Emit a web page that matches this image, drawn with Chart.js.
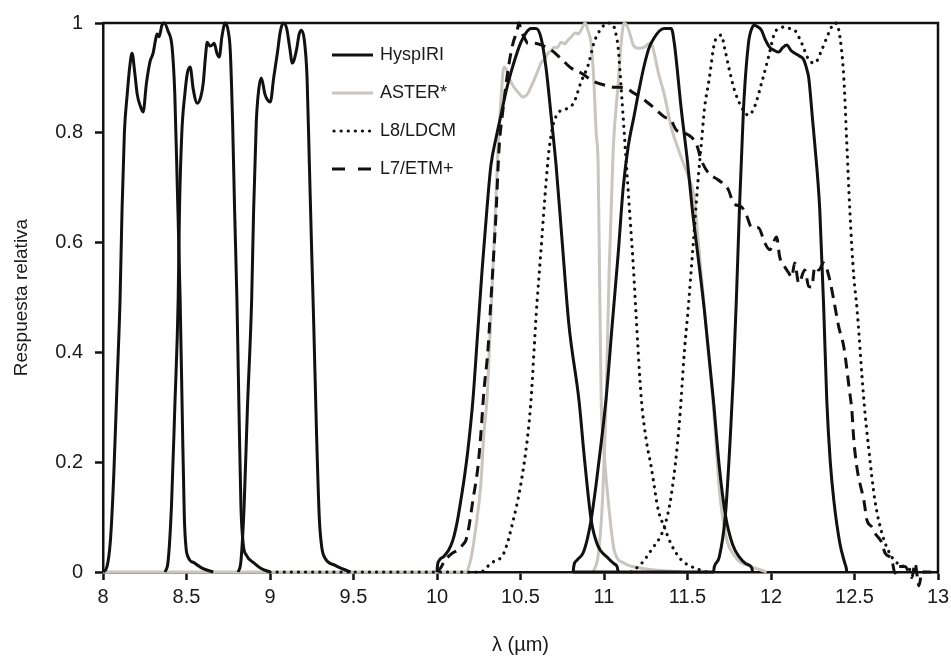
<!DOCTYPE html>
<html>
<head>
<meta charset="utf-8">
<script src="https://cdn.jsdelivr.net/npm/chart.js@4.4.0/dist/chart.umd.min.js"></script>
<style>
  html, body { margin: 0; padding: 0; background: #fff; }
  #wrap { width: 951px; height: 657px; position: relative; }
</style>
</head>
<body>
<div id="wrap"><canvas id="chart"></canvas></div>
<script>
// [wavelength (um), relative response]
const hyspiri1 = [[8.0,0],[8.024,0.01],[8.045,0.06],[8.065,0.18],[8.085,0.35],[8.102,0.495],[8.114,0.66],[8.128,0.8],[8.145,0.87],[8.16,0.92],[8.174,0.945],[8.19,0.91],[8.205,0.87],[8.222,0.85],[8.24,0.838],[8.26,0.89],[8.282,0.93],[8.3,0.945],[8.315,0.97],[8.324,0.98],[8.336,0.975],[8.352,0.995],[8.366,1.0],[8.39,0.985],[8.414,0.955],[8.43,0.87],[8.445,0.7],[8.462,0.495],[8.475,0.28],[8.487,0.1],[8.497,0.045],[8.51,0.027],[8.55,0.016],[8.6,0.006],[8.66,0]];
const hyspiri2 = [[8.372,0],[8.39,0.02],[8.41,0.12],[8.43,0.3],[8.45,0.495],[8.458,0.66],[8.472,0.8],[8.49,0.87],[8.506,0.91],[8.522,0.92],[8.54,0.88],[8.564,0.854],[8.585,0.865],[8.6,0.89],[8.614,0.94],[8.624,0.965],[8.64,0.958],[8.654,0.96],[8.666,0.963],[8.682,0.945],[8.696,0.938],[8.712,0.975],[8.732,1.0],[8.75,0.985],[8.762,0.95],[8.776,0.82],[8.788,0.66],[8.802,0.495],[8.814,0.3],[8.826,0.12],[8.84,0.05],[8.86,0.03],[8.91,0.015],[8.95,0.006],[9.0,0]];
const hyspiri3 = [[8.81,0],[8.826,0.02],[8.845,0.12],[8.865,0.3],[8.89,0.495],[8.902,0.66],[8.918,0.82],[8.933,0.88],[8.948,0.9],[8.97,0.87],[8.985,0.86],[9.002,0.856],[9.022,0.9],[9.044,0.945],[9.062,0.985],[9.08,1.0],[9.1,0.99],[9.118,0.955],[9.134,0.927],[9.158,0.95],[9.175,0.98],[9.188,0.987],[9.205,0.97],[9.222,0.9],[9.236,0.74],[9.25,0.58],[9.262,0.45],[9.278,0.26],[9.295,0.1],[9.31,0.045],[9.33,0.025],[9.39,0.012],[9.44,0.005],[9.483,0]];
const hyspiri4 = [[10.0,0],[10.003,0.012],[10.015,0.022],[10.04,0.028],[10.07,0.04],[10.095,0.058],[10.12,0.09],[10.143,0.131],[10.165,0.175],[10.185,0.222],[10.215,0.313],[10.24,0.42],[10.27,0.55],[10.3,0.665],[10.323,0.741],[10.353,0.79],[10.383,0.832],[10.413,0.875],[10.443,0.91],[10.473,0.94],[10.503,0.965],[10.533,0.982],[10.563,0.99],[10.593,0.99],[10.623,0.973],[10.653,0.918],[10.683,0.832],[10.713,0.741],[10.75,0.6],[10.79,0.45],[10.85,0.313],[10.885,0.2],[10.923,0.095],[10.96,0.05],[11.025,0.025],[11.06,0.015],[11.078,0.01],[11.085,0]];
const hyspiri5 = [[10.815,0],[10.82,0.012],[10.84,0.022],[10.875,0.035],[10.9,0.06],[10.923,0.095],[10.953,0.16],[10.985,0.24],[11.013,0.317],[11.049,0.45],[11.085,0.58],[11.115,0.7],[11.145,0.775],[11.181,0.832],[11.211,0.88],[11.241,0.923],[11.27,0.955],[11.301,0.973],[11.33,0.985],[11.361,0.99],[11.403,0.99],[11.421,0.963],[11.463,0.842],[11.499,0.75],[11.529,0.66],[11.565,0.57],[11.601,0.477],[11.655,0.313],[11.691,0.19],[11.727,0.104],[11.77,0.05],[11.811,0.027],[11.85,0.015],[11.884,0.008],[11.89,0]];
const hyspiri6 = [[10.815,0],[11.655,0],[11.661,0.01],[11.69,0.027],[11.727,0.104],[11.757,0.25],[11.775,0.36],[11.793,0.5],[11.811,0.66],[11.835,0.842],[11.865,0.963],[11.885,0.99],[11.901,0.996],[11.92,0.993],[11.943,0.987],[11.965,0.97],[11.991,0.956],[12.02,0.95],[12.046,0.947],[12.07,0.955],[12.094,0.96],[12.12,0.95],[12.142,0.945],[12.17,0.94],[12.196,0.933],[12.215,0.915],[12.226,0.9],[12.25,0.82],[12.262,0.78],[12.292,0.66],[12.316,0.477],[12.334,0.313],[12.355,0.2],[12.376,0.131],[12.412,0.053],[12.442,0.016],[12.45,0.008],[12.454,0]];

const aster13 = [[8.0,0],[10.17,0],[10.2,0.02],[10.233,0.082],[10.263,0.162],[10.281,0.253],[10.299,0.313],[10.317,0.43],[10.335,0.55],[10.35,0.66],[10.365,0.769],[10.383,0.86],[10.401,0.92],[10.416,0.915],[10.431,0.9],[10.461,0.883],[10.485,0.874],[10.515,0.865],[10.545,0.872],[10.565,0.885],[10.581,0.896],[10.6,0.91],[10.623,0.927],[10.645,0.935],[10.665,0.945],[10.685,0.95],[10.701,0.956],[10.72,0.955],[10.743,0.965],[10.765,0.962],[10.785,0.969],[10.805,0.975],[10.827,0.982],[10.845,0.98],[10.863,0.987],[10.887,1.0],[10.905,0.985],[10.923,0.963],[10.94,0.89],[10.953,0.8],[10.965,0.74],[10.975,0.5],[10.983,0.317],[11.0,0.22],[11.025,0.131],[11.061,0.04],[11.121,0.016],[11.223,0.007],[11.463,0]];
const aster14 = [[10.935,0],[10.965,0.03],[10.989,0.12],[11.013,0.317],[11.031,0.55],[11.055,0.769],[11.085,0.89],[11.103,0.965],[11.121,1.0],[11.145,0.99],[11.175,0.96],[11.205,0.954],[11.241,0.956],[11.265,0.962],[11.283,0.963],[11.304,0.94],[11.325,0.91],[11.361,0.87],[11.403,0.81],[11.445,0.77],[11.475,0.745],[11.505,0.72],[11.541,0.68],[11.565,0.6],[11.601,0.48],[11.655,0.3],[11.691,0.15],[11.727,0.07],[11.793,0.025],[11.884,0.01],[11.974,0]];

const l8band10 = [[9.0,0],[10.26,0],[10.323,0.016],[10.401,0.035],[10.461,0.1],[10.503,0.162],[10.545,0.253],[10.563,0.313],[10.593,0.464],[10.623,0.587],[10.653,0.709],[10.671,0.769],[10.695,0.814],[10.725,0.836],[10.755,0.842],[10.785,0.845],[10.821,0.856],[10.863,0.893],[10.905,0.923],[10.941,0.965],[10.983,0.99],[11.025,1.0],[11.055,0.996],[11.075,0.975],[11.085,0.954],[11.103,0.88],[11.121,0.8],[11.139,0.72],[11.157,0.64],[11.175,0.56],[11.193,0.464],[11.223,0.317],[11.253,0.24],[11.283,0.191],[11.325,0.113],[11.361,0.082],[11.403,0.05],[11.463,0.022],[11.523,0.01],[11.613,0]];
const l8band11 = [[11.163,0],[11.223,0.015],[11.283,0.04],[11.361,0.082],[11.403,0.14],[11.451,0.27],[11.481,0.4],[11.505,0.483],[11.535,0.6],[11.565,0.72],[11.583,0.78],[11.601,0.842],[11.631,0.9],[11.661,0.963],[11.685,0.975],[11.703,0.978],[11.721,0.956],[11.751,0.914],[11.781,0.878],[11.823,0.847],[11.865,0.832],[11.901,0.847],[11.943,0.89],[11.985,0.938],[12.022,0.982],[12.052,0.99],[12.082,0.993],[12.112,0.99],[12.142,0.987],[12.184,0.963],[12.226,0.933],[12.262,0.927],[12.304,0.951],[12.346,0.982],[12.382,1.0],[12.406,0.987],[12.436,0.9],[12.454,0.78],[12.472,0.66],[12.496,0.537],[12.514,0.483],[12.556,0.313],[12.586,0.222],[12.622,0.131],[12.664,0.071],[12.724,0.027],[12.802,0.009],[12.886,0],[13.0,0]];

const l7etm = [[10.0,0],[10.01,0.003],[10.023,0.008],[10.045,0.02],[10.065,0.027],[10.095,0.035],[10.125,0.04],[10.155,0.05],[10.173,0.058],[10.191,0.082],[10.215,0.131],[10.245,0.191],[10.263,0.253],[10.281,0.33],[10.305,0.404],[10.323,0.495],[10.341,0.587],[10.353,0.65],[10.371,0.769],[10.395,0.842],[10.425,0.914],[10.455,0.963],[10.479,0.985],[10.491,1.0],[10.503,0.985],[10.521,0.975],[10.545,0.963],[10.581,0.963],[10.623,0.96],[10.683,0.951],[10.743,0.935],[10.803,0.918],[10.863,0.909],[10.941,0.893],[11.001,0.887],[11.061,0.883],[11.121,0.882],[11.181,0.872],[11.241,0.86],[11.301,0.845],[11.361,0.829],[11.403,0.822],[11.433,0.805],[11.481,0.8],[11.523,0.792],[11.553,0.78],[11.583,0.75],[11.625,0.727],[11.685,0.714],[11.745,0.696],[11.775,0.672],[11.823,0.665],[11.853,0.65],[11.884,0.628],[11.925,0.627],[11.962,0.6],[11.992,0.587],[12.034,0.61],[12.052,0.574],[12.082,0.556],[12.106,0.545],[12.124,0.537],[12.142,0.563],[12.166,0.526],[12.202,0.55],[12.226,0.52],[12.244,0.519],[12.262,0.556],[12.286,0.55],[12.316,0.563],[12.352,0.532],[12.376,0.495],[12.406,0.446],[12.436,0.41],[12.47,0.33],[12.484,0.295],[12.496,0.24],[12.514,0.191],[12.532,0.162],[12.556,0.131],[12.574,0.095],[12.604,0.082],[12.622,0.071],[12.664,0.053],[12.682,0.035],[12.724,0.022],[12.742,-0.002],[12.766,0.01],[12.802,0.01],[12.844,-0.01],[12.862,0.016],[12.886,-0.025],[12.904,0],[12.95,0]];

const seriesNames = ["HyspIRI", "ASTER*", "L8/LDCM", "L7/ETM+"];
const xTitle = "λ (µm)";
const yTitle = "Respuesta relativa";

const black = "#111111";
const grey = "#c9c5c1";
const fontFamily = "'Liberation Sans', Arial, Helvetica, sans-serif";

const styles = {
  "HyspIRI": { color: black, dash: [], cap: "butt" },
  "ASTER*": { color: grey, dash: [], cap: "butt" },
  "L8/LDCM": { color: black, dash: [0.1, 7], cap: "round" },
  "L7/ETM+": { color: black, dash: [11, 7], cap: "butt" }
};

const toXY = arr => arr.map(p => ({ x: p[0], y: p[1] }));
const plainNum = v => String(Number(v.toFixed(2)));

function makeSet(name, arr) {
  const s = styles[name];
  return {
    label: name,
    data: toXY(arr),
    showLine: true,
    pointRadius: 0,
    borderWidth: name === "L8/LDCM" ? 3.2 : 3,
    borderColor: s.color,
    borderDash: s.dash,
    borderCapStyle: s.cap,
    borderJoinStyle: "round",
    cubicInterpolationMode: "monotone",
    fill: false,
    clip: { left: 5, top: 2, right: 8, bottom: 16 }
  };
}

// first in list is drawn on top
const datasets = [
  makeSet("HyspIRI", hyspiri1),
  makeSet("HyspIRI", hyspiri2),
  makeSet("HyspIRI", hyspiri3),
  makeSet("HyspIRI", hyspiri4),
  makeSet("HyspIRI", hyspiri5),
  makeSet("HyspIRI", hyspiri6),
  makeSet("L7/ETM+", l7etm),
  makeSet("L8/LDCM", l8band10),
  makeSet("L8/LDCM", l8band11),
  makeSet("ASTER*", aster13),
  makeSet("ASTER*", aster14)
];

const framePlugin = {
  id: "frame",
  beforeDatasetsDraw(chart) {
    const { ctx, chartArea: a } = chart;
    ctx.save();
    ctx.strokeStyle = black;
    ctx.lineWidth = 2.5;
    ctx.beginPath();
    ctx.moveTo(a.left, a.top);
    ctx.lineTo(a.right, a.top);
    ctx.lineTo(a.right, a.bottom);
    ctx.stroke();
    ctx.restore();
  }
};

const legendPlugin = {
  id: "innerLegend",
  afterDatasetsDraw(chart) {
    const ctx = chart.ctx;
    const rows = [55, 93, 131, 169];
    ctx.save();
    seriesNames.forEach((name, i) => {
      const s = styles[name];
      ctx.strokeStyle = s.color;
      ctx.lineWidth = name === "L8/LDCM" ? 3.2 : 3;
      ctx.lineCap = s.cap;
      ctx.setLineDash(name === "L7/ETM+" ? [13, 13] : s.dash);
      ctx.beginPath();
      ctx.moveTo(name === "L8/LDCM" ? 334 : 332, rows[i]);
      ctx.lineTo(373, rows[i]);
      ctx.stroke();
      ctx.setLineDash([]);
      ctx.fillStyle = "#1a1a1a";
      ctx.font = "18px " + fontFamily;
      ctx.textBaseline = "middle";
      ctx.textAlign = "left";
      ctx.fillText(name, 380, rows[i]);
    });
    ctx.restore();
  }
};

const axisCommon = {
  grid: { display: true, drawOnChartArea: false, drawTicks: true, tickLength: 8, tickWidth: 2.5, tickColor: black },
  border: { display: true, color: black, width: 2.5 }
};

Chart.defaults.font.family = fontFamily;
Chart.defaults.color = "#1a1a1a";

new Chart(document.getElementById("chart"), {
  type: "scatter",
  data: { datasets: datasets },
  options: {
    responsive: true,
    maintainAspectRatio: false,
    animation: false,
    devicePixelRatio: 1,
    layout: { padding: { top: 23, right: 13, left: 0, bottom: 0 } },
    plugins: { legend: { display: false }, tooltip: { enabled: false } },
    scales: {
      x: {
        ...axisCommon,
        type: "linear",
        min: 8,
        max: 13,
        ticks: { stepSize: 0.5, autoSkip: false, maxRotation: 0, padding: 5, font: { size: 20 }, callback: plainNum },
        title: { display: true, text: xTitle, font: { size: 20 }, padding: { top: 0, bottom: 0 } },
        afterFit: s => { s.height = 85; s.paddingRight = 0; s.paddingLeft = 0; }
      },
      y: {
        ...axisCommon,
        min: 0,
        max: 1,
        ticks: { stepSize: 0.2, padding: 12, font: { size: 20 }, callback: plainNum },
        title: { display: true, text: yTitle, font: { size: 19 }, padding: { top: 10, bottom: 0 } },
        afterFit: s => { s.width = 103; s.paddingTop = 0; s.paddingBottom = 0; }
      }
    }
  },
  plugins: [framePlugin, legendPlugin]
});
</script>
</body>
</html>
